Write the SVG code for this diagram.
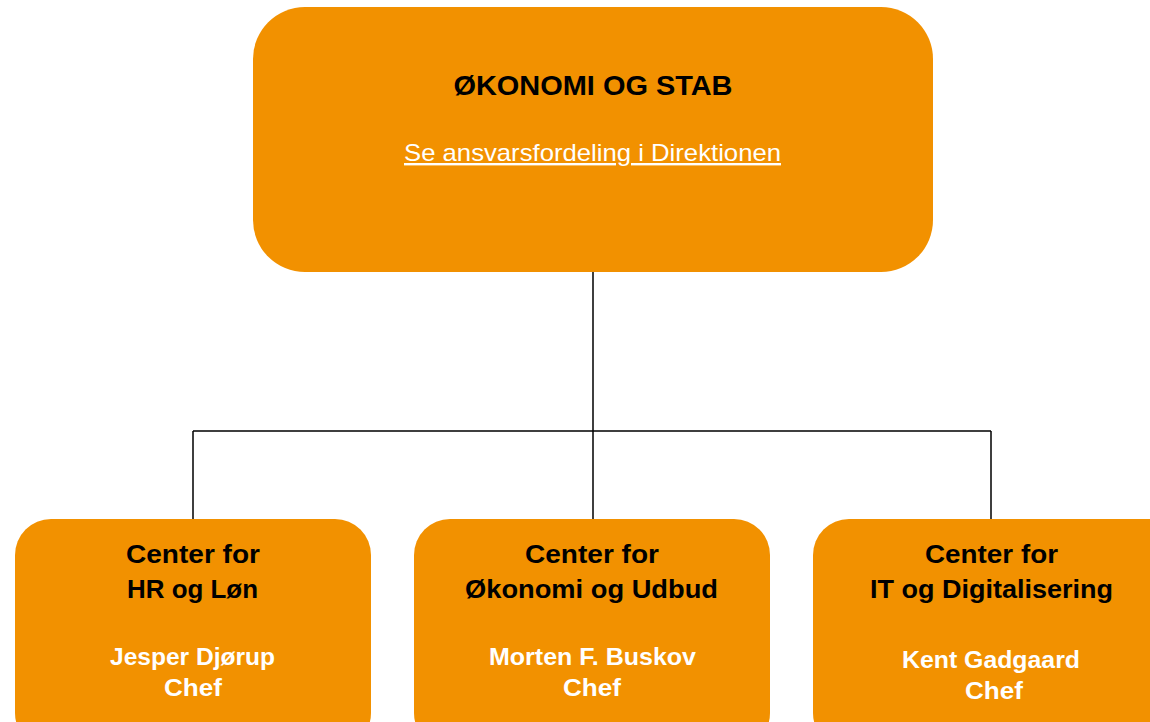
<svg xmlns="http://www.w3.org/2000/svg" width="1150" height="722" viewBox="0 0 1150 722">
<style>
.box{fill:#F29100;}
.t{font-family:"Liberation Sans",Arial,sans-serif;font-weight:bold;text-anchor:middle;}
.h{fill:#000;font-size:26px;}
.p{fill:#fff;font-size:23px;}
.line{stroke:#000;stroke-width:1.5;fill:none;}
</style>
<rect width="1150" height="722" fill="#fff"/>
<g id="connectors">
<path class="line" d="M593,271 V519 M193,431 H991 M193,431 V519 M991,431 V519"/>
</g>
<g id="top">
<rect class="box" x="253" y="7" width="680" height="265" rx="52" ry="52"/>
<text class="t" x="593" y="95" font-size="28" textLength="279" lengthAdjust="spacingAndGlyphs">ØKONOMI OG STAB</text>
<text x="592.5" y="161" font-family="Liberation Sans,Arial,sans-serif" font-size="24" fill="#fff" text-anchor="middle" text-decoration="underline" textLength="377" lengthAdjust="spacingAndGlyphs">Se ansvarsfordeling i Direktionen</text>
</g>
<g id="hr">
<rect class="box" x="15" y="519" width="356" height="230" rx="36" ry="36"/>
<text class="t h" x="193" y="563" textLength="134" lengthAdjust="spacingAndGlyphs">Center for</text>
<text class="t h" x="192.5" y="598" textLength="131" lengthAdjust="spacingAndGlyphs">HR og Løn</text>
<text class="t p" x="192.5" y="665" textLength="165" lengthAdjust="spacingAndGlyphs">Jesper Djørup</text>
<text class="t p" x="193" y="696" textLength="58" lengthAdjust="spacingAndGlyphs">Chef</text>
</g>
<g id="okonomi">
<rect class="box" x="414" y="519" width="356" height="230" rx="36" ry="36"/>
<text class="t h" x="592" y="563" textLength="134" lengthAdjust="spacingAndGlyphs">Center for</text>
<text class="t h" x="591.5" y="598" textLength="253" lengthAdjust="spacingAndGlyphs">Økonomi og Udbud</text>
<text class="t p" x="592.5" y="665" textLength="207" lengthAdjust="spacingAndGlyphs">Morten F. Buskov</text>
<text class="t p" x="592" y="696" textLength="58" lengthAdjust="spacingAndGlyphs">Chef</text>
</g>
<g id="it">
<rect class="box" x="813" y="519" width="380" height="230" rx="36" ry="36"/>
<text class="t h" x="991.5" y="563" textLength="133" lengthAdjust="spacingAndGlyphs">Center for</text>
<text class="t h" x="991.5" y="598" textLength="243" lengthAdjust="spacingAndGlyphs">IT og Digitalisering</text>
<text class="t p" x="991" y="668" textLength="178" lengthAdjust="spacingAndGlyphs">Kent Gadgaard</text>
<text class="t p" x="994" y="699" textLength="58" lengthAdjust="spacingAndGlyphs">Chef</text>
</g>
</svg>
